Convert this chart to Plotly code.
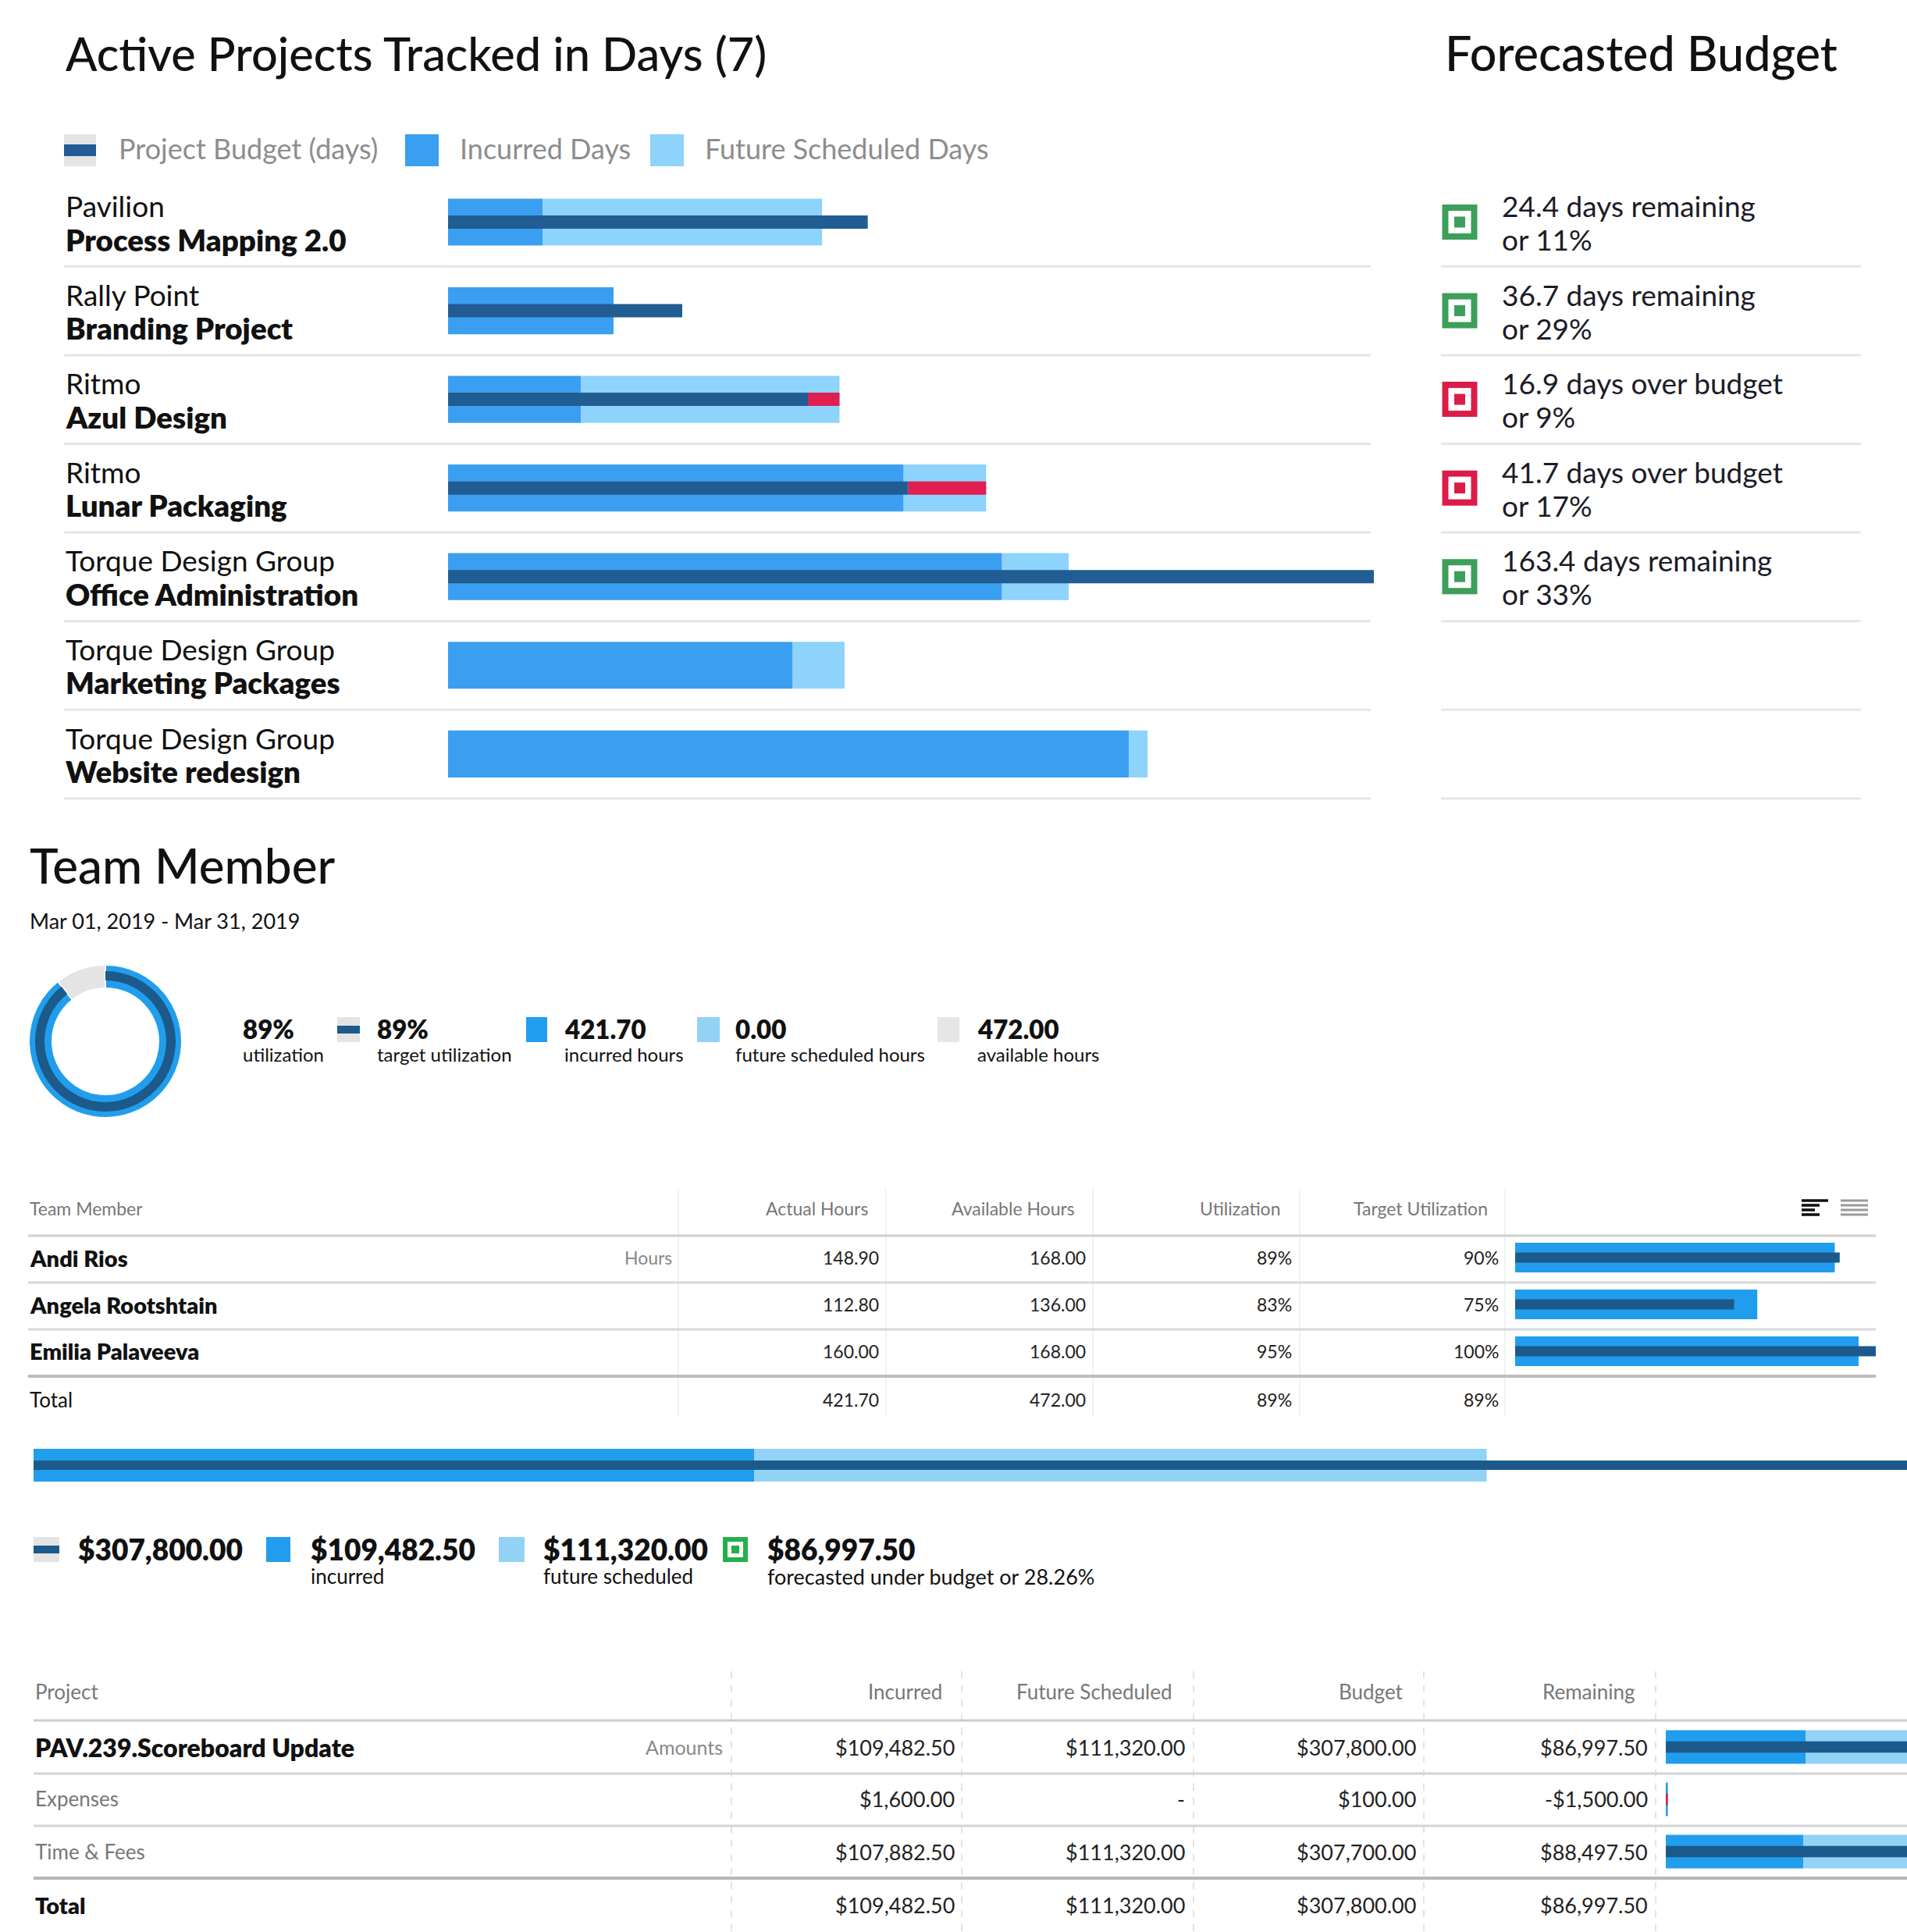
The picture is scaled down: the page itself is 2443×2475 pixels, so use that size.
import plotly.graph_objects as go

W, H = 2443, 2475
FONT = "Lato"

# ---------------- data ----------------
companies = ["Pavilion", "Rally Point", "Ritmo", "Ritmo", "Torque Design Group",
             "Torque Design Group", "Torque Design Group"]
projects = ["Process Mapping 2.0", "Branding Project", "Azul Design", "Lunar Packaging",
            "Office Administration", "Marketing Packages", "Website redesign"]
incurred_days = [50.7, 88.5, 71.1, 243.6, 296.2, 184.3, 364.0]
future_days = [149.3, 0.0, 138.2, 44.1, 35.6, 27.7, 10.0]
budget_days = [224.4, 125.2, 192.4, 246.0, 495.2, None, None]
forecast_delta = [24.4, 36.7, -16.9, -41.7, 163.4, None, None]
forecast_pct = [11, 29, 9, 17, 33, None, None]

members = ["Andi Rios", "Angela Rootshtain", "Emilia Palaveeva"]
actual_hours = [148.90, 112.80, 160.00]
available_hours = [168.00, 136.00, 168.00]
target_util = [0.90, 0.75, 1.00]
future_hours = 0.00

proj_rows = ["PAV.239.Scoreboard Update", "Expenses", "Time & Fees"]
proj_incurred = [109482.50, 1600.00, 107882.50]
proj_future = [111320.00, 0.0, 111320.00]
proj_budget = [307800.00, 100.00, 307700.00]

# ---------------- colours ----------------
C_INC, C_FUT, C_DARK, C_RED = "#3a9ff0", "#8dd3fb", "#215c93", "#e01e50"
C_INC2, C_FUT2, C_DARK2 = "#219ded", "#92d2f4", "#1b5a8b"
C_GREEN, C_REDI = "#3d9f5a", "#dc1c48"
C_GRAY = "#e4e4e4"


def X(px):
    return px / W


def Y(py):
    return 1 - py / H


annotations = []
shapes = []


def txt(x, y, s, size, color="#111111", anchor="left", weight=400):
    annotations.append(dict(
        x=X(x), y=Y(y), xref="paper", yref="paper", text=s,
        showarrow=False, xanchor=anchor, yanchor="middle",
        font=dict(family=FONT, size=size, color=color, weight=weight)))


def rect(x0, y0, x1, y1, fill):
    shapes.append(dict(type="rect", xref="paper", yref="paper", x0=X(x0), x1=X(x1),
                       y0=Y(y1), y1=Y(y0), fillcolor=fill, line=dict(width=0), layer="above"))


def hline(x0, x1, y, color, width=3, dash="solid"):
    shapes.append(dict(type="line", xref="paper", yref="paper", x0=X(x0), x1=X(x1),
                       y0=Y(y), y1=Y(y), line=dict(color=color, width=width, dash=dash), layer="below"))


def vline(x, y0, y1, color, width=1.5, dash="solid"):
    shapes.append(dict(type="line", xref="paper", yref="paper", x0=X(x), x1=X(x),
                       y0=Y(y0), y1=Y(y1), line=dict(color=color, width=width, dash=dash), layer="below"))


def money(v):
    return ("-$%s" % format(-v, ",.2f")) if v < 0 else ("$%s" % format(v, ",.2f"))


fig = go.Figure()

# ---------------- top: project bars ----------------
rows = list(range(len(projects)))
fig.add_trace(go.Bar(y=rows, x=incurred_days, base=[0] * len(rows), orientation="h", width=0.53,
                     marker=dict(color=C_INC, line=dict(width=0)), xaxis="x", yaxis="y"))
fig.add_trace(go.Bar(y=rows, x=future_days, base=incurred_days, orientation="h", width=0.53,
                     marker=dict(color=C_FUT, line=dict(width=0)), xaxis="x", yaxis="y"))
b_rows = [r for r in rows if budget_days[r] is not None]
fig.add_trace(go.Bar(y=b_rows, x=[budget_days[r] for r in b_rows], base=[0] * len(b_rows),
                     orientation="h", width=0.15, marker=dict(color=C_DARK, line=dict(width=0)),
                     xaxis="x", yaxis="y"))
o_rows = [r for r in b_rows if incurred_days[r] + future_days[r] > budget_days[r]]
fig.add_trace(go.Bar(y=o_rows, x=[incurred_days[r] + future_days[r] - budget_days[r] for r in o_rows],
                     base=[budget_days[r] for r in o_rows], orientation="h", width=0.15,
                     marker=dict(color=C_RED, line=dict(width=0)), xaxis="x", yaxis="y"))

# forecast icons
f_rows = [r for r in rows if forecast_delta[r] is not None]
f_cols = [C_GREEN if forecast_delta[r] >= 0 else C_REDI for r in f_rows]
for size, col in [(45, f_cols), (29, "white"), (14, f_cols)]:
    fig.add_trace(go.Scatter(x=[0.5] * len(f_rows), y=f_rows, mode="markers",
                             marker=dict(symbol="square", size=size, color=col, line=dict(width=0)),
                             xaxis="x2", yaxis="y", cliponaxis=False))

txt(82, 68, "Active Projects Tracked in Days (%d)" % len(projects), 59.5, weight=500)
txt(1849, 68, "Forecasted Budget", 61, weight=500)

rect(82, 172, 123, 213, C_GRAY)
rect(82, 185, 123, 200, C_DARK)
txt(150, 190, "Project Budget (days)", 36, "#8d8d8d")
rect(519, 172, 562, 213, C_INC)
txt(587, 190, "Incurred Days", 36, "#8d8d8d")
rect(833, 172, 876, 213, C_FUT)
txt(901, 190, "Future Scheduled Days", 36, "#8d8d8d")

ROW0, ROWH = 284.5, 113.6
for i in rows:
    yc = ROW0 + i * ROWH
    txt(82, yc - 21, companies[i], 37)
    txt(82, yc + 22, projects[i], 38.5, weight=800)
    hline(82, 1756, yc + ROWH / 2, "#e6e6e6", 3)
    hline(1846, 2384, yc + ROWH / 2, "#e6e6e6", 3)
    d = forecast_delta[i]
    if d is not None:
        word = "remaining" if d >= 0 else "over budget"
        txt(1922, yc - 21, "%.1f days %s" % (abs(d), word), 37, "#1c1c28")
        txt(1922, yc + 22, "or %d%%" % forecast_pct[i], 37, "#1c1c28")

# ---------------- team member ----------------
tot_actual = sum(actual_hours)
tot_avail = sum(available_hours)
target_hours = [a * t for a, t in zip(available_hours, target_util)]
tot_target = sum(target_hours)

txt(36, 1108, "Team Member", 62, weight=500)
txt(36, 1179, "Mar 01, 2019 - Mar 31, 2019", 27)

fig.add_trace(go.Pie(values=[tot_actual, future_hours, tot_avail - tot_actual - future_hours],
                     marker=dict(colors=[C_INC2, C_FUT2, C_GRAY], line=dict(color="white", width=2)),
                     hole=68 / 98, sort=False, direction="clockwise", textinfo="none",
                     domain=dict(x=[X(37), X(233)], y=[Y(1432), Y(1236)]), showlegend=False))
fig.add_trace(go.Pie(values=[tot_target, tot_avail - tot_target],
                     marker=dict(colors=[C_DARK2, "rgba(0,0,0,0)"], line=dict(width=0)),
                     hole=78 / 90, sort=False, direction="clockwise", textinfo="none",
                     domain=dict(x=[X(45), X(225)], y=[Y(1424), Y(1244)]), showlegend=False))

util_pct = round(100 * tot_actual / tot_avail)
target_pct = round(100 * tot_target / tot_avail)
BW = 800
txt(309, 1318, "%d%%" % util_pct, 33, weight=BW)
txt(309, 1350, "utilization", 24)
rect(432, 1303, 461, 1335, C_GRAY)
rect(432, 1314, 461, 1324, C_DARK2)
txt(481, 1318, "%d%%" % target_pct, 33, weight=BW)
txt(481, 1350, "target utilization", 24)
rect(674, 1303, 701, 1335, C_INC2)
txt(721, 1318, "%.2f" % tot_actual, 33, weight=BW)
txt(721, 1350, "incurred hours", 24)
rect(893, 1303, 922, 1335, C_FUT2)
txt(940, 1318, "%.2f" % future_hours, 33, weight=BW)
txt(940, 1350, "future scheduled hours", 24)
rect(1201, 1303, 1229, 1335, "#e6e6e6")
txt(1250, 1318, "%.2f" % tot_avail, 33, weight=BW)
txt(1250, 1350, "available hours", 24)

# team table
HDR = "#777777"
txt(36, 1548, "Team Member", 23, HDR)
for s, xr in [("Actual Hours", 1114), ("Available Hours", 1379), ("Utilization", 1643),
              ("Target Utilization", 1908)]:
    txt(xr, 1548, s, 23, HDR, anchor="right")
# icons in header
for k, (w, yy) in enumerate([(34, 1538), (23, 1544), (17, 1550), (23, 1556)]):
    rect(2308, yy - 1.8, 2308 + w, yy + 1.8, "#111111")
    rect(2358, yy - 1.6, 2393, yy + 1.6, "#9a9a9a")

for xv in [869, 1135, 1400, 1665, 1928]:
    vline(xv, 1523, 1815, "#ececec", 1.5)
hline(36, 2403, 1583, "#d0d0d0", 3)
hline(36, 2403, 1643, "#d8d8d8", 3)
hline(36, 2403, 1703, "#d8d8d8", 3)
hline(36, 2403, 1763, "#bdbdbd", 4)

team_y = [1611, 1671, 1731]
for i, m in enumerate(members):
    yc = team_y[i]
    txt(36, yc, m, 29, weight=BW)
    if i == 0:
        txt(863, yc, "Hours", 23, "#888888", anchor="right")
    txt(1128, yc, "%.2f" % actual_hours[i], 23, "#222222", anchor="right")
    txt(1393, yc, "%.2f" % available_hours[i], 23, "#222222", anchor="right")
    txt(1657, yc, "%d%%" % round(100 * actual_hours[i] / available_hours[i]), 23, "#222222", anchor="right")
    txt(1922, yc, "%d%%" % round(100 * target_util[i]), 23, "#222222", anchor="right")
txt(36, 1793, "Total", 26)
txt(1128, 1793, "%.2f" % tot_actual, 23, "#222222", anchor="right")
txt(1393, 1793, "%.2f" % tot_avail, 23, "#222222", anchor="right")
txt(1657, 1793, "%d%%" % util_pct, 23, "#222222", anchor="right")
txt(1922, 1793, "%d%%" % target_pct, 23, "#222222", anchor="right")

trow = list(range(len(members)))
fig.add_trace(go.Bar(y=trow, x=actual_hours, orientation="h", width=0.63,
                     marker=dict(color=C_INC2, line=dict(width=0)), xaxis="x3", yaxis="y3"))
fig.add_trace(go.Bar(y=trow, x=target_hours, orientation="h", width=0.22,
                     marker=dict(color=C_DARK2, line=dict(width=0)), xaxis="x3", yaxis="y3"))

# ---------------- summary budget bar ----------------
s_inc = proj_incurred[0]
s_fut = proj_future[0]
s_bud = proj_budget[0]
s_rem = s_bud - s_inc - s_fut
fig.add_trace(go.Bar(y=[0], x=[s_inc], base=[0], orientation="h", width=0.42,
                     marker=dict(color=C_INC2, line=dict(width=0)), xaxis="x4", yaxis="y4"))
fig.add_trace(go.Bar(y=[0], x=[s_fut], base=[s_inc], orientation="h", width=0.42,
                     marker=dict(color=C_FUT2, line=dict(width=0)), xaxis="x4", yaxis="y4"))
fig.add_trace(go.Bar(y=[0], x=[s_bud], base=[0], orientation="h", width=0.12,
                     marker=dict(color=C_DARK2, line=dict(width=0)), xaxis="x4", yaxis="y4"))

rect(43, 1969, 76, 2001, C_GRAY)
rect(43, 1980, 76, 1990, C_DARK2)
txt(98, 1985, money(s_bud), 37, weight=BW)
rect(341, 1969, 372, 2001, C_INC2)
txt(396, 1985, money(s_inc), 37, weight=BW)
txt(396, 2019, "incurred", 26)
rect(639, 1969, 672, 2001, C_FUT2)
txt(694, 1985, money(s_fut), 37, weight=BW)
txt(694, 2019, "future scheduled", 26)
rect(926, 1969, 958, 2001, "#22b04b")
rect(932, 1975, 952, 1995, "white")
rect(937, 1980, 947, 1990, "#22b04b")
txt(981, 1985, money(s_rem), 37, weight=BW)
txt(981, 2019, "forecasted under budget or %.2f%%" % (100 * s_rem / s_bud), 27)

# ---------------- project table ----------------
txt(43, 2167, "Project", 26, HDR)
for s, xr in [("Incurred", 1209), ("Future Scheduled", 1504), ("Budget", 1800), ("Remaining", 2097)]:
    txt(xr, 2167, s, 26, HDR, anchor="right")
for xv in [937, 1232, 1529, 1824, 2121]:
    vline(xv, 2141, 2475, "#dadada", 1.5, "dash")
hline(43, 2443, 2204, "#cccccc", 3)
hline(43, 2443, 2272, "#d4d4d4", 3)
hline(43, 2443, 2339, "#d4d4d4", 3)
hline(43, 2443, 2406, "#b8b8b8", 4)

p_y = [2238, 2304, 2372]
for i, name in enumerate(proj_rows):
    yc = p_y[i]
    if i == 0:
        txt(43, yc, name, 32, weight=BW)
        txt(928, yc, "Amounts", 25, "#888888", anchor="right")
    else:
        txt(43, yc, name, 26, "#777777")
    rem = proj_budget[i] - proj_incurred[i] - proj_future[i]
    txt(1225, yc, money(proj_incurred[i]), 27, "#222222", anchor="right")
    txt(1520, yc, money(proj_future[i]) if proj_future[i] else "-", 27, "#222222", anchor="right")
    txt(1816, yc, money(proj_budget[i]), 27, "#222222", anchor="right")
    txt(2113, yc, money(rem), 27, "#222222", anchor="right")
txt(43, 2440, "Total", 29, weight=BW)
txt(1225, 2440, money(s_inc), 27, "#222222", anchor="right")
txt(1520, 2440, money(s_fut), 27, "#222222", anchor="right")
txt(1816, 2440, money(s_bud), 27, "#222222", anchor="right")
txt(2113, 2440, money(s_rem), 27, "#222222", anchor="right")

prow = list(range(len(proj_rows)))
fig.add_trace(go.Bar(y=prow, x=proj_incurred, base=[0] * 3, orientation="h", width=0.64,
                     marker=dict(color=C_INC2, line=dict(width=0)), xaxis="x5", yaxis="y5"))
fig.add_trace(go.Bar(y=prow, x=proj_future, base=proj_incurred, orientation="h", width=0.64,
                     marker=dict(color=C_FUT2, line=dict(width=0)), xaxis="x5", yaxis="y5"))
fig.add_trace(go.Bar(y=prow, x=proj_budget, base=[0] * 3, orientation="h", width=0.22,
                     marker=dict(color=C_DARK2, line=dict(width=0)), xaxis="x5", yaxis="y5"))
ov = [r for r in prow if proj_incurred[r] + proj_future[r] > proj_budget[r]]
fig.add_trace(go.Bar(y=ov, x=[proj_incurred[r] + proj_future[r] - proj_budget[r] for r in ov],
                     base=[proj_budget[r] for r in ov], orientation="h", width=0.22,
                     marker=dict(color=C_RED, line=dict(width=0)), xaxis="x5", yaxis="y5"))

# ---------------- layout ----------------
ax = dict(visible=False, fixedrange=True, showgrid=False, zeroline=False)
fig.update_layout(
    width=W, height=H, margin=dict(l=0, r=0, t=0, b=0),
    paper_bgcolor="white", plot_bgcolor="rgba(0,0,0,0)",
    barmode="overlay", showlegend=False, hovermode=False,
    font=dict(family=FONT),
    xaxis=dict(ax, domain=[X(574), X(1760)], range=[0, 495], anchor="y"),
    yaxis=dict(ax, domain=[Y(1022.6), Y(227.7)], range=[6.5, -0.5], anchor="x"),
    xaxis2=dict(ax, domain=[X(1840), X(1900)], range=[0, 1], anchor="y"),
    xaxis3=dict(ax, domain=[X(1941), X(2403)], range=[0, 168], anchor="y3"),
    yaxis3=dict(ax, domain=[Y(1761), Y(1581)], range=[2.5, -0.5], anchor="x3"),
    xaxis4=dict(ax, domain=[X(43), 1], range=[0, 284670], anchor="y4"),
    yaxis4=dict(ax, domain=[Y(1927), Y(1827)], range=[-0.5, 0.5], anchor="x4"),
    xaxis5=dict(ax, domain=[X(2134), 1], range=[0, 189000], anchor="y5"),
    yaxis5=dict(ax, domain=[Y(2405.5), Y(2204.5)], range=[2.5, -0.5], anchor="x5"),
    annotations=annotations, shapes=shapes,
)

fig.write_html("out.html", config={"displayModeBar": False},
               post_script="document.body.style.margin='0';document.body.style.overflow='hidden';")
